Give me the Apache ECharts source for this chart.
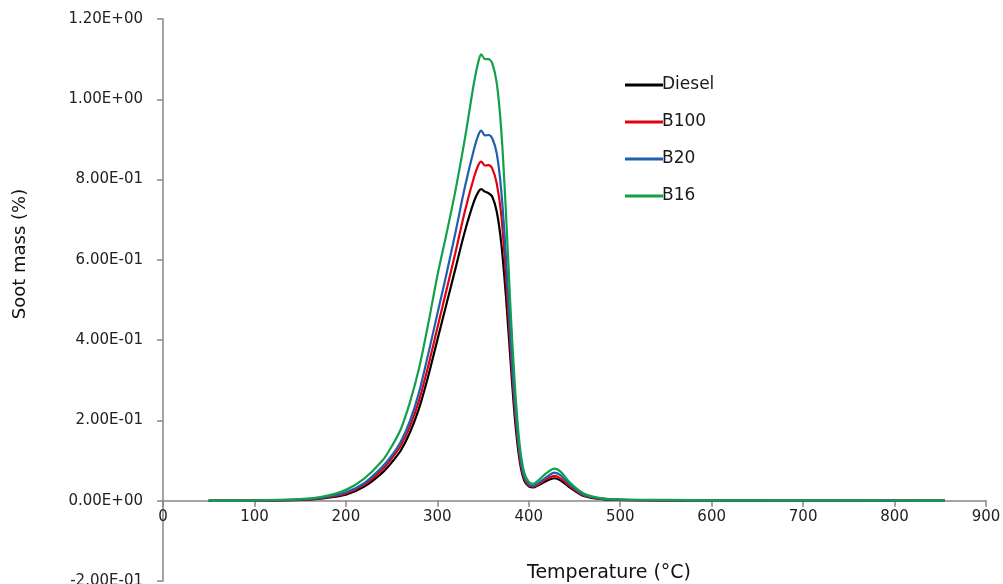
<!DOCTYPE html>
<html>
<head>
<meta charset="utf-8">
<script src="https://cdn.jsdelivr.net/npm/echarts@6/dist/echarts.min.js"></script>
<style>
  html, body { margin: 0; padding: 0; background: #fff; }
  #chart { width: 1003px; height: 584px; }
</style>
</head>
<body>
<div id="chart"></div>
<script>
// temperatures (°C) where values were read
const temps = [50, 100, 150, 175, 200, 220, 240, 250, 260, 270, 280, 290, 300, 310, 320, 330, 340, 345, 348, 352, 356, 360, 365, 370, 375, 380, 385, 390, 395, 400, 405, 410, 420, 428, 435, 445, 460, 480, 500, 550, 600, 700, 800, 855]

const diesel = [0, 0.0005, 0.002, 0.006, 0.015, 0.035, 0.07, 0.095, 0.125, 0.17, 0.23, 0.31, 0.40, 0.49, 0.58, 0.67, 0.745, 0.77, 0.776, 0.77, 0.766, 0.758, 0.72, 0.64, 0.51, 0.35, 0.20, 0.10, 0.05, 0.036, 0.033, 0.038, 0.05, 0.056, 0.05, 0.033, 0.012, 0.004, 0.002, 0.001, 0.001, 0.0005, 0.0003, 0]
const b100 = [0, 0.0006, 0.0025, 0.007, 0.018, 0.04, 0.078, 0.105, 0.137, 0.185, 0.25, 0.335, 0.43, 0.525, 0.62, 0.72, 0.805, 0.837, 0.845, 0.835, 0.836, 0.828, 0.79, 0.71, 0.56, 0.38, 0.22, 0.11, 0.055, 0.038, 0.035, 0.04, 0.055, 0.062, 0.055, 0.036, 0.013, 0.005, 0.002, 0.001, 0.001, 0.0005, 0.0003, 0]
const b20 = [0, 0.0007, 0.003, 0.008, 0.021, 0.044, 0.085, 0.112, 0.147, 0.198, 0.27, 0.365, 0.465, 0.565, 0.67, 0.78, 0.875, 0.912, 0.922, 0.91, 0.911, 0.903, 0.865, 0.77, 0.61, 0.41, 0.24, 0.12, 0.06, 0.041, 0.037, 0.043, 0.06, 0.07, 0.063, 0.04, 0.015, 0.005, 0.003, 0.001, 0.001, 0.0005, 0.0003, 0]
const b16 = [0, 0.001, 0.004, 0.01, 0.027, 0.055, 0.10, 0.135, 0.178, 0.245, 0.33, 0.44, 0.56, 0.665, 0.775, 0.90, 1.04, 1.095, 1.112, 1.10, 1.10, 1.09, 1.04, 0.92, 0.72, 0.48, 0.28, 0.14, 0.07, 0.047, 0.042, 0.05, 0.07, 0.08, 0.072, 0.045, 0.018, 0.006, 0.003, 0.002, 0.001, 0.001, 0.0005, 0]

const seriesNames = ['Diesel', 'B100', 'B20', 'B16']
const seriesData = [diesel, b100, b20, b16]
const seriesColors = ['#000000', '#e3000f', '#1f5fb0', '#12a04a']

const font = '"DejaVu Sans", sans-serif'
const axisGray = '#868686'

// 1.20E+00 style labels
function sciLabel(v) {
  if (Math.abs(v) < 1e-9) return '0.00E+00'
  const s = v.toExponential(2).toUpperCase()
  const [m, e] = s.split('E')
  const sign = e[0] === '-' ? '-' : '+'
  const digits = e.replace(/[+-]/, '').padStart(2, '0')
  return m + 'E' + sign + digits
}

const chart = echarts.init(document.getElementById('chart'))

chart.setOption({
  animation: false,
  backgroundColor: '#fff',
  grid: { left: 163, right: 17, top: 19, bottom: 3, outerBoundsMode: 'none', containLabel: false },
  legend: {
    orient: 'vertical',
    left: 620,
    top: 71,
    itemGap: 19,
    itemWidth: 38,
    itemHeight: 3,
    icon: 'rect',
    textStyle: { fontFamily: font, fontSize: 17, lineHeight: 18, color: '#1a1a1a', padding: [0, 0, 0, -6] },
    data: seriesNames
  },
  xAxis: {
    type: 'value',
    min: 0,
    max: 900,
    interval: 100,
    // x axis sits on y = 0 (grid height 562px over 1.4 units)
    offset: -80.3,
    axisLine: { onZero: false, lineStyle: { color: axisGray, width: 1.5 } },
    axisTick: { show: true, length: 6, lineStyle: { color: axisGray, width: 1.5 } },
    axisLabel: { fontFamily: font, fontSize: 15, color: '#222', margin: 9 },
    splitLine: { show: false }
  },
  yAxis: {
    type: 'value',
    min: -0.2,
    max: 1.2,
    interval: 0.2,
    axisLine: { show: true, onZero: false, lineStyle: { color: axisGray, width: 1.5 } },
    axisTick: { show: true, length: 6, lineStyle: { color: axisGray, width: 1.5 } },
    axisLabel: { fontFamily: font, fontSize: 15, color: '#222', margin: 20, formatter: sciLabel },
    splitLine: { show: false }
  },
  graphic: [
    {
      type: 'text',
      x: 20,
      y: 254,
      rotation: Math.PI / 2,
      style: {
        text: 'Soot mass (%)',
        fontFamily: font,
        fontSize: 18,
        fill: '#111',
        textAlign: 'center',
        textVerticalAlign: 'middle'
      }
    },
    {
      type: 'text',
      x: 609,
      y: 573,
      style: {
        text: 'Temperature (°C)',
        fontFamily: font,
        fontSize: 19,
        fill: '#111',
        textAlign: 'center',
        textVerticalAlign: 'middle'
      }
    }
  ],
  series: seriesNames.map((name, i) => ({
    name,
    type: 'line',
    smooth: 0.3,
    showSymbol: false,
    color: seriesColors[i],
    lineStyle: { width: 2.2, color: seriesColors[i] },
    data: temps.map((t, j) => [t, seriesData[i][j]])
  }))
})
</script>
</body>
</html>
